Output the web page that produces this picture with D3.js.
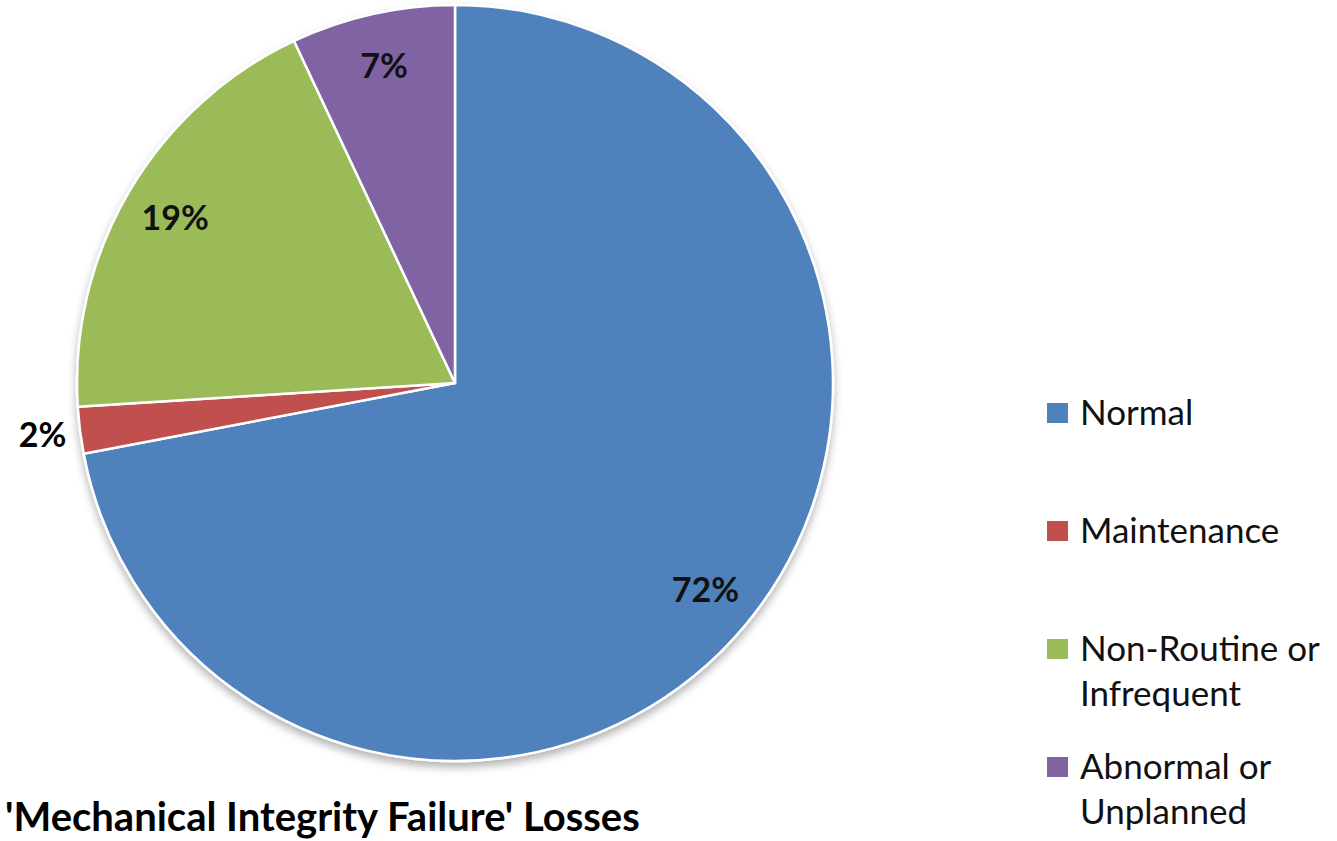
<!DOCTYPE html>
<html>
<head>
<meta charset="utf-8">
<script src="https://cdn.jsdelivr.net/npm/d3@7"></script>
<style>
  html, body { margin: 0; padding: 0; background: #ffffff; }
  svg { display: block; }
</style>
</head>
<body>
<svg id="chart" width="1337" height="841"></svg>
<script>
// Loss share by operating mode
const categories = ["Normal", "Maintenance", "Non-Routine or Infrequent", "Abnormal or Unplanned"];
const legendLines = [["Normal"], ["Maintenance"], ["Non-Routine or", "Infrequent"], ["Abnormal or", "Unplanned"]];
const values = [72, 2, 19, 7];
const colors = ["#4f81bd", "#c0504d", "#9bbb59", "#8064a2"];
const title = "'Mechanical Integrity Failure' Losses";

const svg = d3.select("#chart");
const cx = 455, cy = 383, R = 378;

const defs = svg.append("defs");
const f = defs.append("filter").attr("id", "shadow")
  .attr("x", "-10%").attr("y", "-10%").attr("width", "120%").attr("height", "125%");
f.append("feDropShadow").attr("dx", 0).attr("dy", 5).attr("stdDeviation", 4)
  .attr("flood-color", "#000").attr("flood-opacity", 0.3);

const pie = d3.pie().sort(null).value(d => d)(values);
const arc = d3.arc().innerRadius(0).outerRadius(R);

const g = svg.append("g").attr("transform", `translate(${cx},${cy})`);

g.append("g").attr("filter", "url(#shadow)")
  .selectAll("path").data(pie).join("path")
  .attr("d", arc)
  .attr("fill", (d, i) => colors[i])
  .attr("stroke", "#ffffff")
  .attr("stroke-width", 2.5)
  .attr("stroke-linejoin", "round");

// Percent labels: inside near the rim, small slices pushed outside
const inner = d3.arc().innerRadius(R * 0.86).outerRadius(R * 0.86);
const outer = d3.arc().innerRadius(R * 1.1).outerRadius(R * 1.1);
g.selectAll("text.lbl").data(pie).join("text")
  .attr("class", "lbl")
  .attr("transform", d => {
    const p = (d.data < 5 ? outer : inner).centroid(d);
    return `translate(${p[0]},${p[1]})`;
  })
  .attr("text-anchor", "middle")
  .attr("dy", "0.36em")
  .attr("font-family", "Lato, 'Open Sans', sans-serif")
  .attr("font-weight", "bold")
  .attr("font-size", 34)
  .attr("fill", d => d.data < 5 ? "#000000" : "#111111")
  .text(d => d.data + "%");

// Legend
const lg = svg.append("g").attr("transform", "translate(1047,425)");
const itemStep = 118, lineStep = 45;
const items = lg.selectAll("g.item").data(categories).join("g")
  .attr("class", "item")
  .attr("transform", (d, i) => `translate(0,${i * itemStep})`);
items.append("rect")
  .attr("x", 0).attr("y", -22).attr("width", 21).attr("height", 20)
  .attr("fill", (d, i) => colors[i]);
items.append("text")
  .attr("x", 33)
  .attr("font-family", "Lato, 'Open Sans', sans-serif")
  .attr("font-size", 35)
  .attr("fill", "#111111")
  .selectAll("tspan").data((d, i) => legendLines[i]).join("tspan")
  .attr("x", 33)
  .attr("y", (d, j) => j * lineStep)
  .text(d => d);

// Title
svg.append("text")
  .attr("x", 5).attr("y", 831)
  .attr("font-family", "Lato, 'Open Sans', sans-serif")
  .attr("font-weight", "bold")
  .attr("font-size", 40)
  .attr("fill", "#000000")
  .text(title);
</script>
</body>
</html>
